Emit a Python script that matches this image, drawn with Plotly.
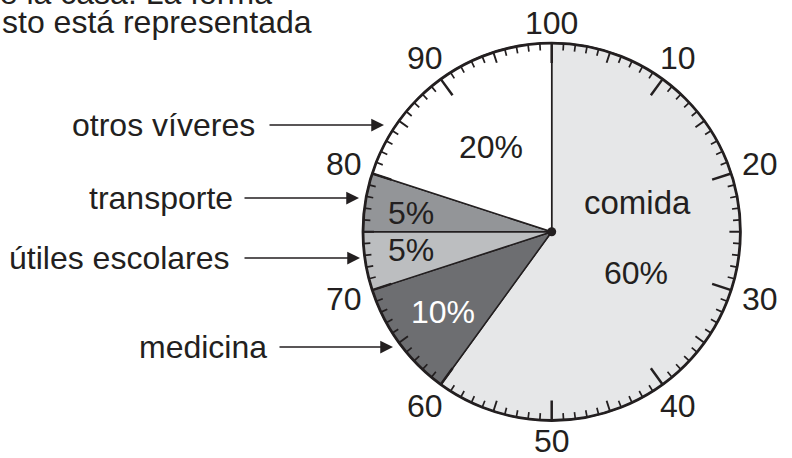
import math

import plotly.graph_objects as go

# slices, clockwise from 12 o'clock
categories = ["comida", "medicina", "útiles escolares", "transporte", "otros víveres"]
values = [60, 10, 5, 5, 20]
slice_colors = ["#e6e7e8", "#6d6e71", "#bcbec0", "#939598", "#ffffff"]

# dial around the pie (one tick per percent)
dial_ticks = list(range(0, 100))
dial_labels = ["100", "10", "20", "30", "40", "50", "60", "70", "80", "90"]

intro_lines = ["ue la casa. La forma", "sto está representada"]

INK = "#231f20"
FONT = "Liberation Sans, Arial, sans-serif"
W, H = 792, 458
CX, CY, R = 551.7, 231.8, 188.7
FS = 32


def polar(pct, r):
    a = math.radians(pct * 3.6)
    return CX + r * math.sin(a), CY - r * math.cos(a)


fig = go.Figure()

fig.add_trace(
    go.Pie(
        labels=categories,
        values=values,
        sort=False,
        direction="clockwise",
        rotation=0,
        marker=dict(colors=slice_colors, line=dict(color=INK, width=1.5)),
        textinfo="none",
        hoverinfo="label+percent",
        showlegend=False,
        domain=dict(
            x=[(CX - R) / W, (CX + R) / W],
            y=[(H - CY - R) / H, (H - CY + R) / H],
        ),
    )
)

shapes = []

# dial ticks, drawn above the pie
for kind, width in (("minor", 1.7), ("mid", 1.9), ("major", 2.5)):
    path = ""
    for t in dial_ticks:
        if t % 10 == 0:
            k, length = "major", 20
        elif t % 5 == 0:
            k, length = "mid", 11
        else:
            k, length = "minor", 7
        if k != kind:
            continue
        x0, y0 = polar(t, R)
        x1, y1 = polar(t, R - length)
        path += f"M{x0:.2f},{y0:.2f} L{x1:.2f},{y1:.2f} "
    shapes.append(
        dict(type="path", path=path, xref="x", yref="y", layer="above",
             line=dict(color=INK, width=width))
    )

# outer ring and centre pin
shapes.append(
    dict(type="circle", xref="x", yref="y", layer="above",
         x0=CX - R, x1=CX + R, y0=CY - R, y1=CY + R,
         line=dict(color=INK, width=2.8))
)
shapes.append(
    dict(type="circle", xref="x", yref="y", layer="above",
         x0=CX - 4.5, x1=CX + 4.5, y0=CY - 4.5, y1=CY + 4.5,
         fillcolor=INK, line=dict(color=INK, width=0))
)

annotations = []

# dial numbers
for i, lab in enumerate(dial_labels):
    pct = i * 10
    r = 209 + 10 * abs(math.sin(math.radians(pct * 3.6)))
    x, y = polar(pct, r)
    annotations.append(
        dict(x=x, y=y, text=lab, showarrow=False, font=dict(size=FS, color=INK))
    )

# slice texts
pct_text = {c: f"{v}%" for c, v in zip(categories, values)}
slice_text = [
    ("comida", 637, 202, INK, 33),
    (pct_text["comida"], 636, 273, INK, FS),
    (pct_text["otros víveres"], 491, 147, INK, FS),
    (pct_text["transporte"], 411, 213, INK, FS),
    (pct_text["útiles escolares"], 411, 250, INK, FS),
    (pct_text["medicina"], 443, 312, "#ffffff", FS),
]
for txt, x, y, col, size in slice_text:
    annotations.append(
        dict(x=x, y=y, text=txt, showarrow=False, font=dict(size=size, color=col))
    )

# pointer labels on the left (all slices except comida)
pointers = {
    "otros víveres": (257, 125, 268, 384),
    "transporte": (235, 198, 243, 359),
    "útiles escolares": (232, 258, 243, 360),
    "medicina": (269, 347, 278, 393),
}
for name, (tx, ty, ax0, ax1) in pointers.items():
    annotations.append(
        dict(x=tx, y=ty, text=name, showarrow=False, xanchor="right",
             font=dict(size=FS, color=INK))
    )
    annotations.append(
        dict(x=ax1, y=ty, ax=ax0, ay=ty, axref="x", ayref="y", text="",
             showarrow=True, arrowhead=2, arrowsize=1.7, arrowwidth=1.5,
             arrowcolor=INK, standoff=0)
    )

# cut-off intro sentence (first line runs off the top edge)
annotations.append(
    dict(x=274, y=1 + 7 / H, xref="x", yref="paper", text=intro_lines[0],
         showarrow=False, xanchor="right", yanchor="middle",
         font=dict(size=FS, color=INK))
)
annotations.append(
    dict(x=0, y=22, text=intro_lines[1], showarrow=False, xanchor="left",
         font=dict(size=FS, color=INK))
)

fig.update_layout(
    width=W,
    height=H,
    margin=dict(l=0, r=0, t=0, b=0),
    paper_bgcolor="white",
    plot_bgcolor="rgba(0,0,0,0)",
    font=dict(family=FONT, color=INK),
    xaxis=dict(range=[0, W], visible=False, fixedrange=True),
    yaxis=dict(range=[H, 0], visible=False, fixedrange=True),
    shapes=shapes,
    annotations=annotations,
    showlegend=False,
)

# drop the default 8px page margin so the figure sits at the window's corner
fig.write_html(
    "out.html",
    config={"displayModeBar": False},
    post_script="document.body.style.margin='0';",
)
